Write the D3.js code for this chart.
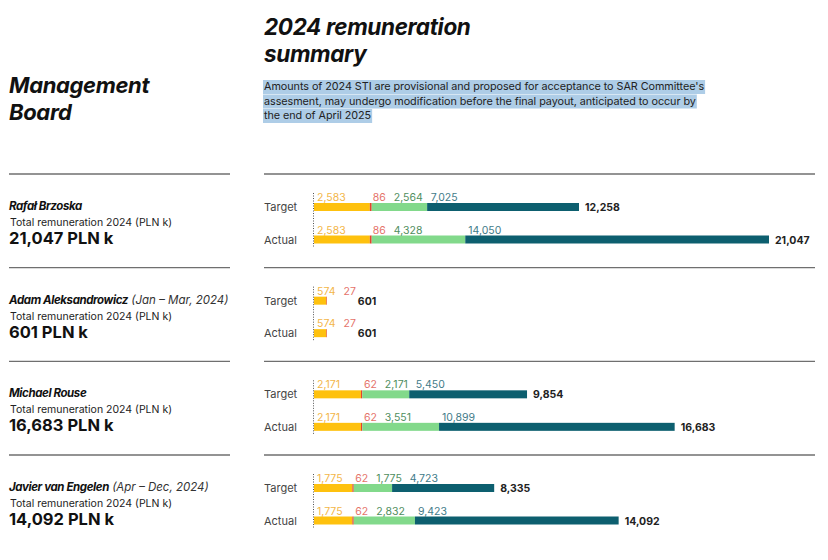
<!DOCTYPE html>
<html>
<head>
<meta charset="utf-8">
<script src="https://cdn.jsdelivr.net/npm/d3@7"></script>
<style>
  html, body { margin: 0; padding: 0; background: #fff; }
  svg { display: block; font-family: Inter, "Noto Sans", sans-serif; }
</style>
</head>
<body>
<svg id="chart" width="828" height="560"></svg>
<script>
// ---- data ----
const people = ["Rafał Brzoska", "Adam Aleksandrowicz", "Michael Rouse", "Javier van Engelen"];
const periods = ["", "(Jan – Mar, 2024)", "", "(Apr – Dec, 2024)"];
const rowTypes = ["Target", "Actual"];
const components = ["base", "benefits", "sti", "lti"];
const baseTarget = [2583, 574, 2171, 1775];
const baseActual = [2583, 574, 2171, 1775];
const benefitsTarget = [86, 27, 62, 62];
const benefitsActual = [86, 27, 62, 62];
const stiTarget = [2564, 0, 2171, 1775];
const stiActual = [4328, 0, 3551, 2832];
const ltiTarget = [7025, 0, 5450, 4723];
const ltiActual = [14050, 0, 10899, 9423];
const totalTarget = [12258, 601, 9854, 8335];
const totalActual = [21047, 601, 16683, 14092];
const totalRemuneration = [21047, 601, 16683, 14092];

const barColors = { base: "#FEC10E", benefits: "#E2432B", sti: "#82D98B", lti: "#0D5F6F" };
const labelColors = { base: "#F3B648", benefits: "#E5736A", sti: "#4F8E5E", lti: "#3F7B89" };

const fmt = d3.format(",");
const svg = d3.select("#chart");

// ---- headers ----
const title = svg.append("g").attr("font-weight", 700).attr("font-style", "italic")
  .attr("fill", "#111").attr("font-size", 22.5).attr("letter-spacing", -0.35);
title.append("text").attr("x", 264).attr("y", 35).text("2024 remuneration");
title.append("text").attr("x", 264).attr("y", 62).text("summary");

const mb = svg.append("g").attr("font-weight", 700).attr("font-style", "italic")
  .attr("fill", "#111").attr("font-size", 22).attr("letter-spacing", -0.35);
mb.append("text").attr("x", 9).attr("y", 93).text("Management");
mb.append("text").attr("x", 9).attr("y", 120).text("Board");

const subLines = [
  "Amounts of 2024 STI are provisional and proposed for acceptance to SAR Committee's",
  "assesment, may undergo modification before the final payout, anticipated to occur by",
  "the end of April 2025"
];
const sub = svg.append("g");
subLines.forEach((line, i) => {
  const y = 90 + i * 14.5;
  const r = sub.append("rect").attr("x", 263).attr("y", y - 10).attr("height", 14).attr("fill", "#AECDE7");
  const t = sub.append("text").attr("x", 264).attr("y", y).attr("font-size", 10.8)
    .attr("fill", "#222").attr("letter-spacing", -0.05).text(line);
  r.attr("width", t.node().getComputedTextLength() + 2);
});

// ---- scales ----
const yPerson = d3.scalePoint().domain(people).range([174, 455]);
const yRow = d3.scalePoint().domain(rowTypes).range([33, 65.5]);
const maxTotal = d3.max(totalActual);
const x0 = 314;
const x = d3.scaleLinear().domain([0, maxTotal]).range([x0, x0 + 455]);
const barH = 8;

const values = {
  Target: { base: baseTarget, benefits: benefitsTarget, sti: stiTarget, lti: ltiTarget, total: totalTarget },
  Actual: { base: baseActual, benefits: benefitsActual, sti: stiActual, lti: ltiActual, total: totalActual }
};

people.forEach((name, i) => {
  const sep = yPerson(name);
  const g = svg.append("g");
  // separators
  g.append("line").attr("x1", 9).attr("x2", 230).attr("y1", sep).attr("y2", sep)
    .attr("stroke", "#6f6f6f").attr("stroke-width", 1.3);
  g.append("line").attr("x1", 264).attr("x2", 815).attr("y1", sep).attr("y2", sep)
    .attr("stroke", "#6f6f6f").attr("stroke-width", 1.3);

  // left info
  const nm = g.append("text").attr("x", 9).attr("y", sep + 36).attr("font-size", 11.5).attr("fill", "#111");
  nm.append("tspan").attr("font-weight", 700).attr("font-style", "italic").attr("letter-spacing", -0.4).text(name);
  if (periods[i]) nm.append("tspan").attr("font-style", "italic").attr("fill", "#333").text(" " + periods[i]);
  g.append("text").attr("x", 10).attr("y", sep + 52).attr("font-size", 10.5).attr("fill", "#222")
    .text("Total remuneration 2024 (PLN k)");
  g.append("text").attr("x", 9).attr("y", sep + 70).attr("font-size", 16.5).attr("font-weight", 700)
    .attr("fill", "#111").text(fmt(totalRemuneration[i]) + " PLN k");

  // dotted axis
  g.append("line").attr("x1", x0 - 0.5).attr("x2", x0 - 0.5).attr("y1", sep + 19).attr("y2", sep + 74)
    .attr("stroke", "#555").attr("stroke-width", 1).attr("stroke-dasharray", "1,1.5");

  rowTypes.forEach(rt => {
    const cy = sep + yRow(rt);
    const top = cy - barH / 2;
    g.append("text").attr("x", 264).attr("y", cy + 4).attr("font-size", 11).attr("fill", "#444").text(rt);

    let cum = 0;
    let prevEnd = -Infinity;
    components.forEach(c => {
      const v = values[rt][c][i];
      if (!v) return;
      const xs = x(cum), xe = x(cum + v);
      g.append("rect").attr("x", xs).attr("y", top).attr("width", xe - xs).attr("height", barH)
        .attr("fill", barColors[c]);
      const lx = Math.max(xs + 3, prevEnd + 8);
      const t = g.append("text").attr("x", lx).attr("y", top - 2).attr("font-size", 10.5)
        .attr("fill", labelColors[c]).text(fmt(v));
      prevEnd = lx + t.node().getComputedTextLength();
      cum += v;
    });
    const tx = Math.max(x(values[rt].total[i]) + 6, prevEnd + 2);
    g.append("text").attr("x", tx).attr("y", cy + 4)
      .attr("font-size", 10.5).attr("font-weight", 700).attr("fill", "#222")
      .text(fmt(values[rt].total[i]));
  });
});
</script>
</body>
</html>
